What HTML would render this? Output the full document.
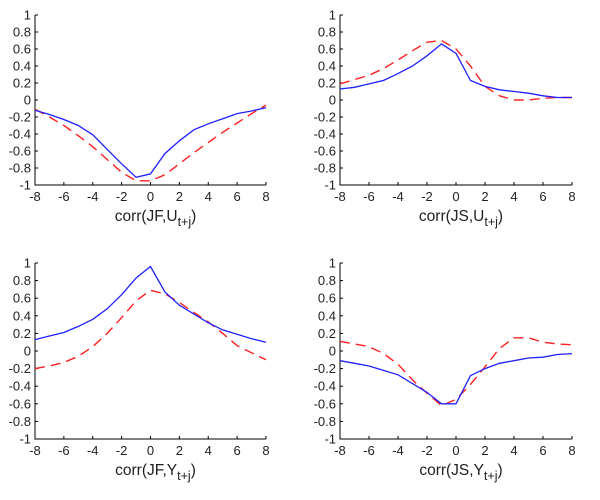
<!DOCTYPE html>
<html><head><meta charset="utf-8"><style>
html,body{margin:0;padding:0;background:#fff;width:600px;height:500px;overflow:hidden}
svg text{font-family:"Liberation Sans",Arial,sans-serif;fill:#222}
</style></head><body>
<svg id="s" width="600" height="500" xmlns="http://www.w3.org/2000/svg"></svg>
<script>
var S=document.getElementById('s'),h='';
var panels=[
{x0:35,x1:266,y0:15,y1:185,lab:['JF','U'],
b:[-0.12,-0.17,-0.23,-0.3,-0.41,-0.58,-0.75,-0.91,-0.87,-0.63,-0.48,-0.35,-0.28,-0.22,-0.16,-0.13,-0.09],
r:[-0.11,-0.2,-0.3,-0.42,-0.55,-0.7,-0.85,-0.95,-0.95,-0.88,-0.75,-0.62,-0.5,-0.38,-0.27,-0.16,-0.06]},
{x0:340,x1:572,y0:15,y1:185,lab:['JS','U'],
b:[0.13,0.15,0.19,0.23,0.31,0.4,0.52,0.66,0.55,0.23,0.16,0.12,0.1,0.08,0.05,0.03,0.03],
r:[0.19,0.24,0.29,0.37,0.47,0.58,0.68,0.7,0.6,0.4,0.16,0.05,0.0,0.0,0.02,0.03,0.03]},
{x0:35,x1:266,y0:263,y1:439,lab:['JF','Y'],
b:[0.13,0.17,0.21,0.28,0.36,0.48,0.64,0.83,0.96,0.67,0.52,0.42,0.32,0.24,0.19,0.14,0.1],
r:[-0.2,-0.17,-0.13,-0.06,0.05,0.2,0.38,0.57,0.69,0.65,0.55,0.44,0.33,0.2,0.06,-0.02,-0.1]},
{x0:340,x1:572,y0:263,y1:439,lab:['JS','Y'],
b:[-0.11,-0.14,-0.17,-0.22,-0.27,-0.37,-0.47,-0.6,-0.6,-0.28,-0.2,-0.14,-0.11,-0.08,-0.07,-0.04,-0.03],
r:[0.11,0.08,0.05,-0.03,-0.15,-0.33,-0.48,-0.62,-0.55,-0.38,-0.18,0.03,0.15,0.15,0.1,0.08,0.07]}];
panels.forEach(function(p){
 var X=function(j){return p.x0+(j+8)/16*(p.x1-p.x0)},Y=function(v){return p.y1-(v+1)/2*(p.y1-p.y0)};
 h+='<path d="M'+p.x0+' '+p.y0+'V'+p.y1+'H'+p.x1+'" fill="none" stroke="#000" stroke-width="1"/>';
 for(var i=0;i<=10;i++){var v=-1+i*0.2,y=Y(v);var t=(Math.abs(v)<1e-9)?'0':(Math.round(v*10)/10).toString();
  h+='<line x1="'+p.x0+'" x2="'+(p.x0+3)+'" y1="'+y+'" y2="'+y+'" stroke="#000"/>';
  h+='<text x="'+(p.x0-4)+'" y="'+(y+4.5)+'" font-size="13" text-anchor="end">'+t+'</text>';}
 for(var j=-8;j<=8;j+=2){var x=X(j);
  h+='<line x1="'+x+'" x2="'+x+'" y1="'+p.y1+'" y2="'+(p.y1-3)+'" stroke="#000"/>';
  h+='<text x="'+x+'" y="'+(p.y1+16)+'" font-size="13" text-anchor="middle">'+j+'</text>';}
 var cx=(p.x0+p.x1)/2+5;
 h+='<text x="'+cx+'" y="'+(p.y1+36)+'" font-size="15.5" text-anchor="middle">corr('+p.lab[0]+','+p.lab[1]+'<tspan font-size="12.5" dy="5">t+j</tspan><tspan dy="-5">)</tspan></text>';
 function pts(a){return a.map(function(v,i){return X(i-8).toFixed(1)+','+Y(v).toFixed(1)}).join(' ')}
 h+='<polyline points="'+pts(p.r)+'" fill="none" stroke="#ff2020" stroke-width="1.4" stroke-dasharray="10,6"/>';
 h+='<polyline points="'+pts(p.b)+'" fill="none" stroke="#2020ff" stroke-width="1.3"/>';
});
S.innerHTML=h;
</script>
</body></html>
